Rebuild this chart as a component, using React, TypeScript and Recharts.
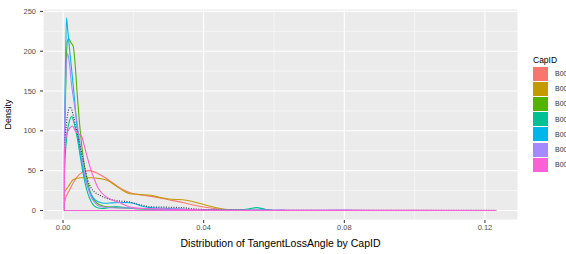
import React from 'react';
import { LineChart, Line, XAxis, YAxis, CartesianGrid, Label } from 'recharts';

// CapID groups and their ggplot hue colours
const capIds = ['B001', 'B002', 'B003', 'B004', 'B005', 'B006', 'B007'];
const capColors = ['#F8766D', '#C49A00', '#53B400', '#00C094', '#00B6EB', '#A58AFF', '#FB61D7'];

// density curves: [TangentLossAngle, density]
const redDensity: [number, number][] = [
  [0.0004, 0], [0.0004, 10], [0.002, 27], [0.004, 42], [0.006, 49], [0.0077, 50], [0.010, 46],
  [0.012, 41], [0.014, 35], [0.016, 29], [0.018, 24], [0.020, 21], [0.023, 19], [0.026, 17],
  [0.030, 13.5], [0.034, 10], [0.038, 6], [0.042, 3], [0.046, 1], [0.050, 0.3], [0.054, 0],
];
const goldDensity: [number, number][] = [
  [0.0004, 0], [0.0004, 22], [0.0015, 30], [0.003, 39], [0.005, 41], [0.008, 41], [0.0105, 40],
  [0.0125, 38], [0.015, 31], [0.017, 25], [0.019, 21], [0.022, 20], [0.025, 19], [0.028, 16],
  [0.031, 14], [0.034, 13.5], [0.037, 11], [0.040, 7.5], [0.043, 4], [0.046, 1.5], [0.049, 0.4], [0.052, 0],
];
const greenDensity: [number, number][] = [
  [0.0004, 0], [0.0004, 50], [0.0008, 160], [0.0012, 212], [0.0016, 216], [0.0022, 211], [0.0029, 206],
  [0.0035, 180], [0.004, 148], [0.005, 95], [0.006, 58], [0.007, 35], [0.008, 20], [0.009, 12],
  [0.010, 8], [0.012, 5], [0.014, 4], [0.017, 3], [0.020, 2.5], [0.025, 1.5], [0.030, 1], [0.035, 0.5],
  [0.040, 0.2], [0.045, 0],
];
const tealDensity: [number, number][] = [
  [0.0004, 0], [0.0004, 45], [0.001, 90], [0.0018, 112], [0.0025, 118], [0.003, 112], [0.004, 92],
  [0.005, 65], [0.006, 40], [0.007, 22], [0.008, 11], [0.009, 5], [0.010, 3], [0.011, 2.5], [0.013, 3.5],
  [0.015, 5], [0.017, 4], [0.020, 2.5], [0.025, 1.5], [0.030, 1], [0.040, 0.5], [0.050, 0.6], [0.053, 2],
  [0.055, 3.5], [0.057, 2], [0.059, 0.3], [0.062, 0],
];
const cyanDensity: [number, number][] = [
  [0.0004, 0], [0.0004, 70], [0.0007, 185], [0.001, 242], [0.0013, 228], [0.002, 196], [0.003, 152],
  [0.004, 104], [0.005, 70], [0.006, 46], [0.007, 30], [0.008, 20], [0.009, 14], [0.010, 11], [0.012, 9],
  [0.014, 9.5], [0.016, 10], [0.018, 10], [0.020, 9], [0.022, 6], [0.024, 4], [0.027, 3], [0.030, 2.5],
  [0.035, 1.5], [0.040, 1], [0.045, 0.5], [0.050, 0.2], [0.058, 0.8], [0.060, 0.2], [0.063, 0],
];
const purpleDensity: [number, number][] = [
  [0.0004, 0], [0.0004, 95], [0.0008, 165], [0.0013, 197], [0.0018, 185], [0.0025, 155], [0.003, 140],
  [0.004, 110], [0.005, 78], [0.006, 50], [0.007, 30], [0.008, 17], [0.009, 10], [0.010, 6], [0.012, 4],
  [0.015, 3], [0.018, 3], [0.022, 2.5], [0.026, 2], [0.030, 1.5], [0.035, 1], [0.040, 0.6], [0.050, 0.3],
  [0.060, 0.2], [0.062, 0.9], [0.064, 0.2], [0.070, 0.1], [0.077, 0.5], [0.080, 0.6], [0.083, 0.1], [0.090, 0],
];
const pinkDensity: [number, number][] = [
  [0.0004, 0], [0.0004, 75], [0.001, 95], [0.002, 104], [0.0027, 106], [0.0035, 100], [0.0045, 96],
  [0.0053, 93], [0.006, 82], [0.007, 65], [0.008, 50], [0.009, 38], [0.010, 28], [0.012, 18], [0.014, 13],
  [0.016, 10], [0.018, 6], [0.020, 3.5], [0.023, 2.5], [0.027, 2], [0.031, 1.5], [0.035, 1], [0.040, 0.6],
  [0.050, 0.3], [0.060, 0.2], [0.080, 0.1], [0.100, 0.05], [0.1232, 0],
];
// overall density, drawn dotted
const allDensity: [number, number][] = [
  [0.0004, 0], [0.0004, 70], [0.001, 110], [0.0016, 127], [0.002, 130], [0.0025, 126], [0.003, 118],
  [0.004, 98], [0.005, 78], [0.006, 58], [0.007, 38], [0.008, 28], [0.009, 23], [0.0105, 19],
  [0.0125, 15], [0.015, 12.5], [0.019, 10.5], [0.022, 7], [0.025, 4.5], [0.030, 4], [0.034, 3.5],
  [0.037, 2], [0.040, 1.2], [0.045, 0.6], [0.050, 0.3], [0.060, 0.2], [0.080, 0.1], [0.1232, 0],
];

const groupDensities = [redDensity, goldDensity, greenDensity, tealDensity, cyanDensity, purpleDensity, pinkDensity];

const xTicks = [0, 0.04, 0.08, 0.12];
const xMinor = [0.02, 0.06, 0.1];
const yTicks = [0, 50, 100, 150, 200, 250];
const yMinor = [25, 75, 125, 175, 225];

const toPoints = (d: [number, number][]) => d.map(([x, y]) => ({ x, y }));

const font = '"Liberation Sans", Arial, sans-serif';
const tickStyle = { fontSize: 7.5, fill: '#4D4D4D', fontFamily: font };

// legend sits past the right edge like in the source, so labels get clipped
const CapLegend = () => (
  <div style={{ position: 'absolute', left: 533, top: 55, fontFamily: font }}>
    <div style={{ fontSize: 8.5, color: '#000', height: 11, lineHeight: '11px' }}>CapID</div>
    {capIds.map((id, i) => (
      <div key={id} style={{ display: 'flex', alignItems: 'center', height: 15.2 }}>
        <div style={{ width: 15, height: 14, background: capColors[i] }} />
        <span style={{ marginLeft: 7, fontSize: 7, color: '#333', whiteSpace: 'nowrap' }}>{id}</span>
      </div>
    ))}
  </div>
);

export default function App() {
  const pink = pinkDensity;
  const baseline = [
    { x: pink[0][0], y: 0 },
    { x: pink[pink.length - 1][0], y: 0 },
  ];
  return (
    <div style={{ position: 'absolute', left: 0, top: 0, width: 566, height: 254, overflow: 'hidden', background: '#fff' }}>
      <LineChart width={566} height={254} margin={{ top: 9, right: 48, bottom: 0, left: 0 }}>
        <CartesianGrid fill="#EBEBEB" stroke="#FFFFFF" strokeWidth={1.1} />
        <CartesianGrid fill="none" stroke="#FFFFFF" strokeWidth={0.5} horizontalValues={yMinor} verticalValues={xMinor} />
        <XAxis
          type="number"
          dataKey="x"
          domain={[-0.0057, 0.1294]}
          ticks={xTicks}
          allowDataOverflow
          tickFormatter={(v: number) => v.toFixed(2)}
          axisLine={false}
          tickLine={{ stroke: '#333' }}
          tickSize={3}
          tickMargin={2}
          tick={tickStyle}
          height={34}
        >
          <Label value="Distribution of TangentLossAngle by CapID" position="insideBottom" offset={7}
            style={{ fontSize: 10.5, fill: '#000', fontFamily: font }} />
        </XAxis>
        <YAxis
          type="number"
          dataKey="y"
          domain={[-12, 253]}
          ticks={yTicks}
          allowDataOverflow
          axisLine={false}
          tickLine={{ stroke: '#333' }}
          tickSize={3}
          tickMargin={4}
          tick={tickStyle}
          width={43}
        >
          <Label value="Density" angle={-90} position="insideLeft" offset={8}
            style={{ fontSize: 9, fill: '#000', fontFamily: font, textAnchor: 'middle' }} />
        </YAxis>
        {groupDensities.slice(0, 6).map((d, i) => (
          <Line key={capIds[i]} data={toPoints(d)} dataKey="y" type="monotone" stroke={capColors[i]}
            strokeWidth={1.1} dot={false} isAnimationActive={false} />
        ))}
        <Line data={toPoints(allDensity)} dataKey="y" type="monotone" stroke="#3b3b5c" strokeWidth={1.2}
          strokeDasharray="1 1.5" dot={false} isAnimationActive={false} />
        <Line data={toPoints(pinkDensity)} dataKey="y" type="monotone" stroke={capColors[6]}
          strokeWidth={1.1} dot={false} isAnimationActive={false} />
        <Line data={baseline} dataKey="y" type="linear" stroke={capColors[6]} strokeWidth={1.1}
          dot={false} isAnimationActive={false} />
      </LineChart>
      <CapLegend />
    </div>
  );
}
